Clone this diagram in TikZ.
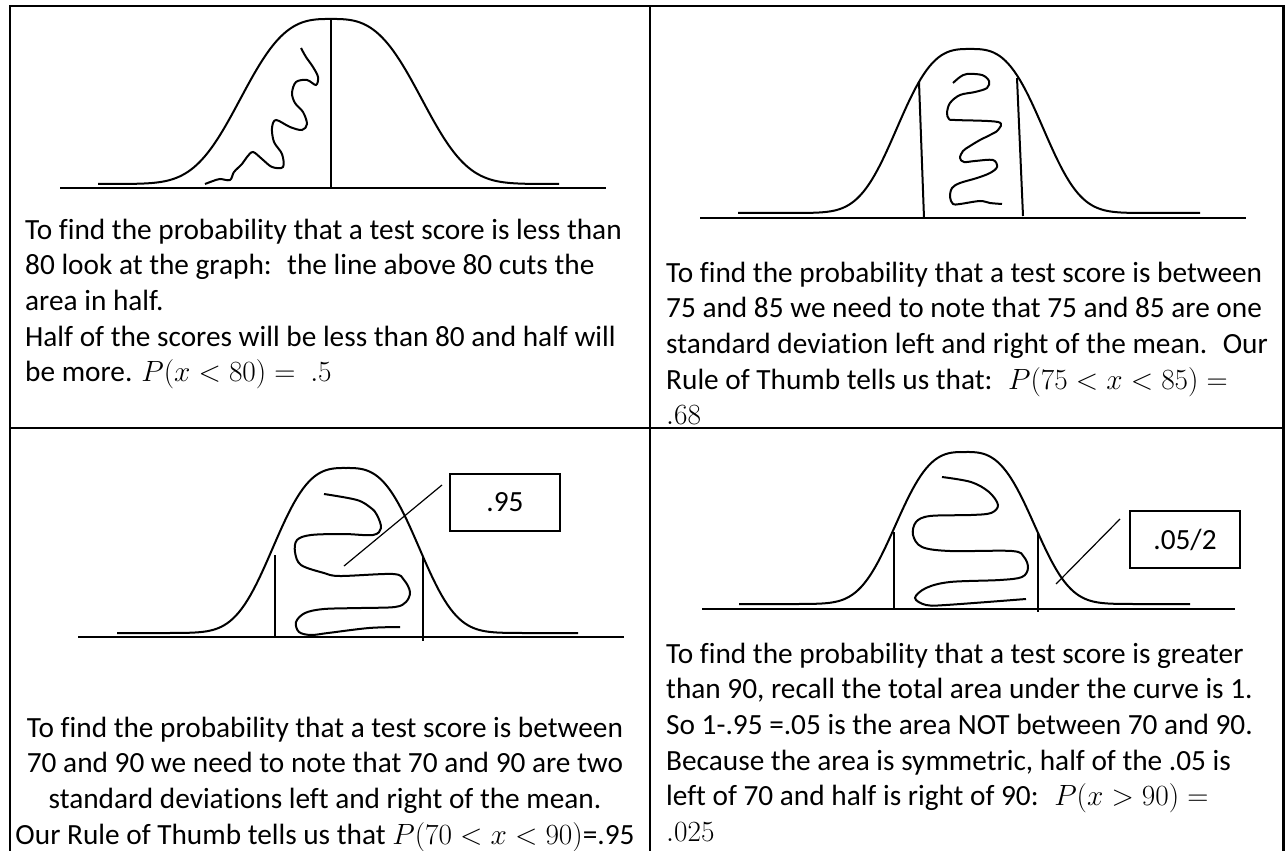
\RequirePackage{fix-cm}
\documentclass[tikz,border=0pt]{standalone}
\usepackage[no-math]{fontspec}
\setmainfont{Carlito}[Ligatures=CommonOff]
\usepackage{tikz}
\usetikzlibrary{positioning}

\newcommand\celltext{\fontsize{29.3}{35.7}\selectfont}
% bell: centre x, base y, height, half width, from x, to x
\newcommand\bellcurve[6]{%
  \draw[crv] plot[domain=#5:#6, samples=160]
    (\x, {#2-#3*exp(0-pow(abs(\x-#1)/#4,3))});}

\begin{document}
\begin{tikzpicture}[
  x=1pt, y=-1pt,
  grid/.style={draw=black, line width=2.6pt},
  crv/.style={draw=black, line width=2pt, line join=round},
  axis/.style={draw=black, line width=2pt},
  wig/.style={draw=black, line width=2pt, smooth, tension=0.55},
  valbox/.style={draw=black, line width=1.2pt, minimum width=110pt,
                 minimum height=57pt, inner sep=0pt, font=\celltext},
  lead/.style={draw=black, line width=1.2pt},
  txt/.style={inner sep=0pt, font=\celltext}
]
\useasboundingbox (0,0) rectangle (1285,851);

% Table
\draw[grid] (10,851) -- (10,6) -- (1283.5,6) -- (1283.5,851);
\draw[grid] (650,6) -- (650,851);
\draw[grid] (10,428) -- (1283.5,428);

% Top left: less than 80
\draw[axis] (60,188) -- (606,188);
\bellcurve{331}{184}{165}{104}{98}{559}
\draw[axis] (331,19) -- (331,188);
\draw[wig] plot coordinates {(301,48) (306,57) (313,67) (318,77) (316,85)
  (307,80) (296,82) (292,93) (295,103) (303,112) (307,124) (302,130)
  (290,127) (276,120) (272,128) (274,142) (282,154) (283,167) (272,167)
  (262,159) (253,152) (247,157) (242,164) (234,172) (230,180) (220,179)
  (213,181) (205,184)};
\node[txt, anchor=base west] (tl) at (25,239) {\parbox[t]{700pt}{\raggedright
  To find the probability that a test score is less than\\
  80 look at the graph: \ the line above 80 cuts the\\
  area in half.\\
  Half of the scores will be less than 80 and half will\\
  be more. $P(x<80)=\ .5$}};

% Top right: between 75 and 85
\draw[axis] (700,218) -- (1246,218);
\bellcurve{970}{213}{164}{84}{738}{1200}
\draw[axis] (919,82) -- (924,218);
\draw[axis] (1017,78) -- (1023,216);
\draw[wig] plot coordinates {(953,83) (960,77) (967,74) (982,75) (989,81)
  (987,88) (975,92) (960,95) (950,103) (947,113) (949,119) (955,120)
  (998,122) (998,130) (990,135) (980,140) (970,146) (963,151) (960,158)
  (964,162) (975,161) (993,160) (997,167) (990,173) (977,178) (960,183)
  (952,188) (950,197) (953,204) (960,204) (980,201) (990,203) (1002,204)};
\node[txt, anchor=base west] (tr) at (666,282) {\parbox[t]{700pt}{\raggedright
  To find the probability that a test score is between\\
  75 and 85 we need to note that 75 and 85 are one\\
  standard deviation left and right of the mean. \ Our\\
  Rule of Thumb tells us that: \ $P(75<x<85)=$\\
  $.68$}};

% Bottom left: between 70 and 90
\draw[axis] (78,637) -- (624,637);
\bellcurve{346}{633}{165}{84}{117}{578}
\draw[axis] (275,555) -- (275,637);
\draw[axis] (423,557) -- (423,641);
\draw[wig] plot coordinates {(324,494) (357,500) (371,508) (377,515)
  (381,528) (373,535) (344,534) (311,535) (297,540) (295,552) (301,565)
  (324,573) (340,576) (393,574) (404,580) (410,592) (406,602) (395,607)
  (361,608) (324,609) (305,613) (296,622) (299,632) (311,635) (328,633)
  (369,628) (400,627)};
\node[valbox] (b95) at (505,502.5) {.95};
\coordinate (l95a) at (442,485);
\coordinate (l95b) at (344,566);
\draw[lead] (l95a) -- (l95b);
\node[txt, anchor=base] (bl) at (325,737) {\parbox[t]{660pt}{\centering
  To find the probability that a test score is between\\
  70 and 90 we need to note that 70 and 90 are two\\
  standard deviations left and right of the mean.\\
  Our Rule of Thumb tells us that $P(70<x<90)$=.95}};

% Bottom right: greater than 90
\draw[axis] (702,609) -- (1235,609);
\bellcurve{965}{604}{152}{80}{739}{1190}
\draw[axis] (894,532) -- (894,609);
\draw[axis] (1038,532) -- (1038,612);
\draw[wig] plot coordinates {(942,477) (971,482) (989,492) (998,505)
  (991,513) (971,515) (930,516) (916,522) (913,535) (922,547) (950,551)
  (1012,551) (1024,557) (1028,568) (1022,577) (1000,580) (950,582)
  (926,588) (915,598) (926,605) (946,605) (1026,599)};
\node[valbox] (b052) at (1185,539.5) {.05/2};
\coordinate (l052a) at (1120,519);
\coordinate (l052b) at (1056,584);
\draw[lead] (l052a) -- (l052b);
\node[txt, anchor=base west] (br) at (666,663) {\parbox[t]{700pt}{\raggedright
  To find the probability that a test score is greater\\
  than 90, recall the total area under the curve is 1.\\
  So 1-.95 =.05 is the area NOT between 70 and 90.\\
  Because the area is symmetric, half of the .05 is\\
  left of 70 and half is right of 90: \ $P(x>90)=$\\
  $.025$}};
\end{tikzpicture}
\end{document}
